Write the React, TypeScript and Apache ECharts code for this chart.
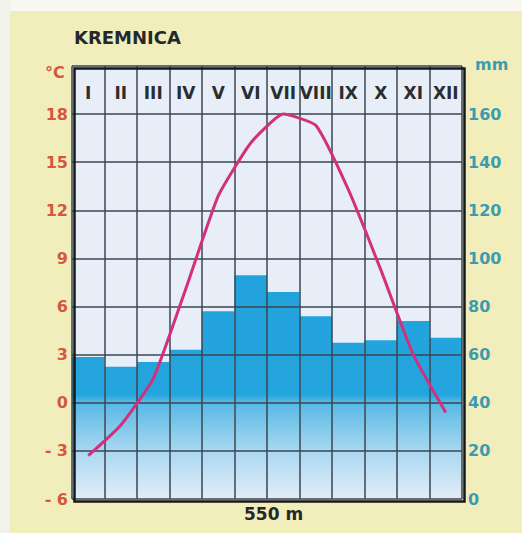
import React, { useEffect, useRef } from "react";
import * as echarts from "echarts";

const months = ["I", "II", "III", "IV", "V", "VI", "VII", "VIII", "IX", "X", "XI", "XII"];
const precipitation = [59, 55, 57, 62, 78, 93, 86, 76, 65, 66, 74, 67];
const temperature = [-3.3, -1.4, 1.5, 7.1, 12.9, 16.2, 18.0, 17.3, 13.3, 8.3, 3.0, -0.6];
const station = "KREMNICA";
const altitude = "550 m";
const tempUnit = "°C";
const precUnit = "mm";

const FONT = "DejaVu Sans";
const RED = "#d2583e";
const TEAL = "#3d9bb0";
const GRIDLINE = "#3b4550";

export default function App() {
  const ref = useRef<HTMLDivElement>(null);
  useEffect(() => {
    if (!ref.current) return;
    const chart = echarts.init(ref.current, undefined, { renderer: "svg" });
    const gTop = 66, gLeft = 72, gRight = 60, gBottom = 34;
    const W = 522, H = 533;
    chart.setOption({
      animation: false,
      backgroundColor: "#f2eebb",
      grid: {
        left: gLeft, right: gRight, top: gTop, bottom: gBottom,
        show: true, backgroundColor: "#e8eef7", borderWidth: 0,
      },
      xAxis: {
        type: "category",
        data: months,
        position: "top",
        boundaryGap: true,
        z: 3,
        axisLine: { show: false },
        axisTick: { show: false },
        splitLine: { show: true, interval: 0, lineStyle: { color: GRIDLINE, width: 1.5 } },
        axisLabel: {
          inside: true, interval: 0, margin: 27, verticalAlign: "middle",
          fontFamily: FONT, fontWeight: "bold", fontSize: 17, color: "#2b2e31",
        },
      },
      yAxis: [
        {
          type: "value", min: -6, max: 21, interval: 3, position: "left", z: 3,
          axisLine: { show: false }, axisTick: { show: false },
          splitLine: { show: true, lineStyle: { color: GRIDLINE, width: 1.5 } },
          axisLabel: {
            margin: 4, fontFamily: FONT, fontWeight: "bold", fontSize: 16, color: RED,
            formatter: (v: number) => (v >= 21 ? "" : v < 0 ? "- " + Math.abs(v) : String(v)),
          },
        },
        {
          type: "value", min: 0, max: 180, interval: 20, position: "right",
          axisLine: { show: false }, axisTick: { show: false },
          splitLine: { show: false },
          axisLabel: {
            margin: 6, fontFamily: FONT, fontWeight: "bold", fontSize: 16, color: TEAL,
            formatter: (v: number) => (v >= 180 ? "" : String(v)),
          },
        },
      ],
      series: [
        {
          type: "bar",
          data: precipitation,
          yAxisIndex: 1,
          barCategoryGap: "0%",
          z: 2,
          itemStyle: {
            color: {
              type: "linear", x: 0, y: gTop, x2: 0, y2: H - gBottom, global: true,
              colorStops: [
                { offset: 0, color: "#1c9ed9" },
                { offset: 0.76, color: "#25a5de" },
                { offset: 0.775, color: "#55b8e6" },
                { offset: 0.89, color: "#aad8f1" },
                { offset: 1, color: "#e3ecf8" },
              ],
            },
          },
        },
        {
          type: "line",
          data: temperature,
          yAxisIndex: 0,
          z: 5,
          smooth: 0.15,
          symbol: "none",
          lineStyle: { color: "#d2307c", width: 3 },
        },
      ],
      graphic: [
        { type: "rect", left: 0, top: 0, shape: { width: W, height: 11 }, style: { fill: "#f8f8f0" }, z: -1, silent: true },
        { type: "rect", left: 0, top: 0, shape: { width: 10, height: H }, style: { fill: "#f2f2ec" }, z: -1, silent: true },
        {
          type: "rect", left: gLeft, top: gTop, z: 10, silent: true,
          shape: { width: W - gLeft - gRight, height: H - gTop - gBottom },
          style: { fill: "none", stroke: "#15191c", lineWidth: 2.5 },
        },
        { type: "text", left: 74, top: 28, style: { text: station, fontFamily: FONT, fontWeight: "bold", fontSize: 18, fill: "#25282b" } },
        { type: "text", left: 45, top: 64, style: { text: tempUnit, fontFamily: FONT, fontWeight: "bold", fontSize: 16, fill: RED } },
        { type: "text", left: 475, top: 56, style: { text: precUnit, fontFamily: FONT, fontWeight: "bold", fontSize: 16, fill: TEAL } },
        { type: "text", left: 244, top: 505, style: { text: altitude, fontFamily: FONT, fontWeight: "bold", fontSize: 17, fill: "#25282b" } },
      ],
    });
    return () => chart.dispose();
  }, []);
  return <div ref={ref} style={{ position: "fixed", left: 0, top: 0, width: 522, height: 533 }} />;
}
